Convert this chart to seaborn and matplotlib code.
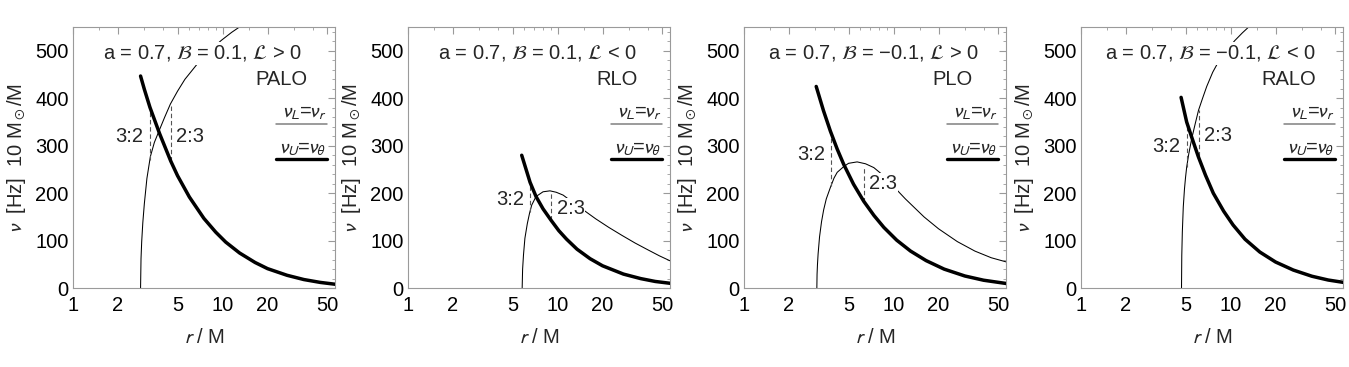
import matplotlib
matplotlib.use("Agg")
import matplotlib.pyplot as plt
from matplotlib.ticker import FixedLocator, FixedFormatter, MultipleLocator, NullFormatter
import seaborn as sns

sns.set_style("white")
plt.rcParams["font.family"] = ["Liberation Sans", "DejaVu Sans"]
plt.rcParams["mathtext.fontset"] = "stixsans"

# ---- values (r in M, nu in Hz for 10 Msun) ----
# panel 1: a=0.7, B=0.1, L>0 (PALO)
r_thick_1 = [2.83, 3.0, 3.27, 3.8, 4.5, 5.0, 6.0, 7.5, 9.0, 10.5, 13, 16.5, 20, 27, 35, 45, 57]
nu_thick_1 = [447, 419, 381, 325, 268, 237, 192, 147, 118, 97, 74, 54, 41, 27, 18, 12, 8]
r_thin_1 = [2.83, 2.85, 2.88, 2.93, 3.0, 3.12, 3.29, 3.5, 3.78, 4.1, 4.48, 5.0, 5.6, 6.3,
            7.0, 8.3, 9.8, 11.5, 13.5]
nu_thin_1 = [0, 62, 98, 138, 178, 231, 277, 307, 333, 360, 388, 415, 440, 460,
             478, 502, 522, 539, 554]
res_r_1 = [3.27, 4.5]
res_lo_1 = [270, 268]
res_hi_1 = [372, 389]

# panel 2: a=0.7, B=0.1, L<0 (RLO)
r_thick_2 = [5.76, 6.55, 7.18, 8.0, 9.05, 10.2, 11.5, 13.5, 16.5, 20, 27.6, 36, 45, 57]
nu_thick_2 = [280, 223, 193, 167, 143, 121, 103, 82, 62, 47, 29.5, 20, 14, 10]
r_thin_2 = [5.8, 5.84, 5.92, 6.05, 6.28, 6.5, 6.72, 7.18, 8.0, 8.9, 9.8, 10.9, 12.5,
            15, 18, 22, 27, 33, 40, 48, 57]
nu_thin_2 = [0, 40, 70, 105, 136, 158, 175, 193, 203, 205, 202, 196, 182,
             164, 146, 128, 111, 95, 81, 68, 57]
res_r_2 = [6.55, 9.05]
res_lo_2 = [160, 143]
res_hi_2 = [220, 204]

# panel 3: a=0.7, B=-0.1, L>0 (PLO)
r_thick_3 = [3.04, 3.4, 3.78, 4.2, 4.64, 5.4, 6.32, 7.4, 8.61, 10.5, 13, 16.5, 21.8, 30, 40, 57]
nu_thick_3 = [425, 374, 331, 293, 261, 219, 183, 153, 128, 101, 78, 58, 40, 25.5, 16.6, 9.6]
r_thin_3 = [3.07, 3.08, 3.1, 3.13, 3.2, 3.3, 3.41, 3.55, 3.78, 4.0, 4.2, 4.64, 5.0, 5.71,
            6.5, 7.38, 8.5, 9.55, 12, 16, 20, 26.7, 35, 45, 57]
nu_thin_3 = [0, 29, 50, 72, 108, 140, 165, 188, 212, 232, 244, 256, 263, 266,
             262, 254, 238, 221, 188, 150, 125, 98, 78, 64, 55]
res_r_3 = [3.82, 6.32]
res_lo_3 = [215, 182]
res_hi_3 = [326, 253]

# panel 4: a=0.7, B=-0.1, L<0 (RALO)
r_thick_4 = [4.67, 5.09, 5.5, 6.09, 6.8, 7.67, 9.0, 10.4, 12.5, 15.7, 20, 26.3, 35, 45, 57]
nu_thick_4 = [402, 350, 318, 277, 238, 200, 162, 133, 103, 76, 55, 38, 25, 17, 12]
r_thin_4 = [4.7, 4.72, 4.76, 4.83, 4.92, 5.0, 5.09, 5.25, 5.5, 5.8, 6.11, 6.5, 6.93,
            7.6, 8.5, 9.5, 10.7, 12, 13.5]
nu_thin_4 = [0, 69, 118, 171, 209, 233, 255, 282, 315, 346, 375, 400, 425,
             455, 483, 503, 522, 538, 553]
res_r_4 = [5.09, 6.11]
res_lo_4 = [255, 279]
res_hi_4 = [345, 375]

titles = [r"a = 0.7, $\mathcal{B}$ = 0.1, $\mathcal{L}$ > 0",
          r"a = 0.7, $\mathcal{B}$ = 0.1, $\mathcal{L}$ < 0",
          r"a = 0.7, $\mathcal{B}$ = −0.1, $\mathcal{L}$ > 0",
          r"a = 0.7, $\mathcal{B}$ = −0.1, $\mathcal{L}$ < 0"]
orbits = ["PALO", "RLO", "PLO", "RALO"]
res_labels = ["3:2", "2:3"]
x_major = [1, 2, 5, 10, 20, 50]
x_minor = [1.5, 3, 4, 6, 7, 8, 9, 15, 30, 40]

panels = [
    (r_thick_1, nu_thick_1, r_thin_1, nu_thin_1, res_r_1, res_lo_1, res_hi_1),
    (r_thick_2, nu_thick_2, r_thin_2, nu_thin_2, res_r_2, res_lo_2, res_hi_2),
    (r_thick_3, nu_thick_3, r_thin_3, nu_thin_3, res_r_3, res_lo_3, res_hi_3),
    (r_thick_4, nu_thick_4, r_thin_4, nu_thin_4, res_r_4, res_lo_4, res_hi_4),
]
# heights of the 3:2 / 2:3 texts and x of the orbit name (axes fraction)
res_label_y = [(319, 319), (186, 168), (281, 221), (298, 321)]
orbit_x = [0.695, 0.72, 0.72, 0.69]

FS = 14.5
GRAY = "#9a9a9a"
lefts = [73, 408, 744, 1081]

fig = plt.figure(figsize=(13.49, 3.67), dpi=100)

for i, (rk, nk, rt, nt, rr, rlo, rhi) in enumerate(panels):
    ax = fig.add_axes([lefts[i] / 1349, 0.215, 262 / 1349, 0.711])
    ax.set_xscale("log")

    sns.lineplot(x=rt, y=nt, ax=ax, color="black", lw=0.75, estimator=None, zorder=2)
    sns.lineplot(x=rk, y=nk, ax=ax, color="black", lw=2.5, estimator=None, zorder=3)
    ax.vlines(rr, rlo, rhi, colors="#555555", linestyles=(0, (4, 2.5)), lw=0.8, zorder=2)

    box = dict(facecolor="white", edgecolor="none", pad=0.6)
    ax.annotate(res_labels[0], (rr[0], res_label_y[i][0]), xytext=(-4.5, 0),
                textcoords="offset points", ha="right", va="center", fontsize=FS,
                bbox=box, zorder=4)
    ax.annotate(res_labels[1], (rr[1], res_label_y[i][1]), xytext=(4, 0),
                textcoords="offset points", ha="left", va="center", fontsize=FS,
                bbox=box, zorder=4)

    ax.text(0.495, 0.9, titles[i], transform=ax.transAxes, ha="center", va="center",
            fontsize=FS, bbox=dict(facecolor="white", edgecolor="none", pad=1.0), zorder=5)
    ax.text(orbit_x[i], 0.8, orbits[i], transform=ax.transAxes, ha="left", va="center",
            fontsize=FS, zorder=5)

    # legend: label over a line sample
    ax.text(0.968, 0.672, r"$\nu_L$=$\nu_r$", transform=ax.transAxes, ha="right",
            va="center", fontsize=FS, zorder=5)
    ax.plot([0.775, 0.969], [0.628, 0.628], transform=ax.transAxes, color="#808080",
            lw=1.1, zorder=5)
    ax.text(0.968, 0.538, r"$\nu_U$=$\nu_\theta$", transform=ax.transAxes, ha="right",
            va="center", fontsize=FS, zorder=5)
    ax.plot([0.775, 0.969], [0.494, 0.494], transform=ax.transAxes, color="black",
            lw=2.4, zorder=5)

    ax.set_xlim(1, 56.5)
    ax.set_ylim(0, 550)
    ax.xaxis.set_major_locator(FixedLocator(x_major))
    ax.xaxis.set_major_formatter(FixedFormatter([str(v) for v in x_major]))
    ax.xaxis.set_minor_locator(FixedLocator(x_minor))
    ax.xaxis.set_minor_formatter(NullFormatter())
    ax.yaxis.set_major_locator(MultipleLocator(100))
    ax.yaxis.set_minor_locator(MultipleLocator(20))

    ax.tick_params(which="both", direction="in", top=True, right=True, color=GRAY,
                   labelsize=FS, labelcolor="black")
    ax.tick_params(which="major", length=5, width=0.8)
    ax.tick_params(which="minor", length=2.5, width=0.6)
    ax.tick_params(axis="x", pad=6)
    ax.tick_params(axis="y", pad=3)
    for s in ax.spines.values():
        s.set_color(GRAY)
        s.set_linewidth(0.8)

    ax.set_xlabel(r"$r$ / M", fontsize=FS, labelpad=9)
    ax.set_ylabel(r"$\nu$  [Hz]  10 M$_\odot$/M", fontsize=FS, labelpad=5)

fig.savefig("out.png", dpi=100)
